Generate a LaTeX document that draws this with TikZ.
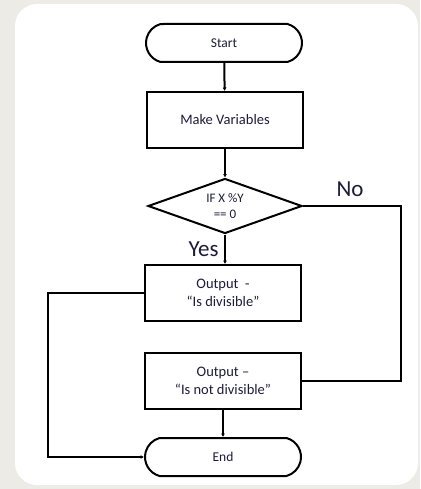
\documentclass[tikz,border=0pt]{standalone}
\usepackage{fontspec}
\setmainfont{Carlito}
\usepackage{tikz}
\usetikzlibrary{arrows.meta,positioning,shapes.geometric,shapes.misc}
\definecolor{pagegrey}{RGB}{236,235,230}
\definecolor{inkdark}{RGB}{30,28,58}

\begin{document}
\begin{tikzpicture}[x=1pt,y=-1pt,
  flowline/.style={line width=2pt,black},
  flowarrow/.style={flowline,-{Latex[length=3.5pt,width=4pt]}},
  terminal/.style={draw,line width=2pt,rounded rectangle,rounded rectangle arc length=150,
    minimum width=156,minimum height=38,inner sep=0pt,font=\fontsize{13.5}{15}\selectfont,text=inkdark},
  process/.style={draw,line width=2pt,rectangle,minimum width=156,minimum height=56,
    align=center,font=\fontsize{14.5}{18}\selectfont,text=inkdark},
  decision/.style={draw,line width=2pt,diamond,aspect=2.8,minimum width=154,minimum height=55,
    inner sep=0pt,align=center,font=\fontsize{13}{16}\selectfont,text=inkdark},
  branchlabel/.style={font=\fontsize{23}{25}\selectfont,text=inkdark}]
  \useasboundingbox (0,0) rectangle (420,489);
  \fill[pagegrey] (0,0) rectangle (420,489);
  \fill[white,rounded corners=22pt] (15,4) rectangle (418,485);
  % boxes
  \node[terminal] (start) at (224,43) {Start};
  \node[process] (vars) at (225,120) {Make Variables};
  \node[decision] (test) at (225,206) {IF X \%Y\\== 0};
  \node[process] (isdiv) at (223,293) {Output \ -\\“Is divisible”};
  \node[process] (notdiv) at (223,381) {Output --\\“Is not divisible”};
  \node[terminal] (stop) at (223,457) {End};
  \coordinate (leftTop) at (48,293);
  \coordinate (leftBot) at (48,457);
  \coordinate (rightTop) at (401,206);
  \coordinate (rightBot) at (401,381);
  % connectors
  \draw[flowarrow] (start) -- (vars);
  \draw[flowarrow] (vars) -- (test);
  \draw[flowarrow] (test.south) -- (test.south |- isdiv.north) node[pos=0.5,left=2pt,branchlabel]{Yes};
  \draw[flowline] (test.east) -- (rightTop) -- (rightBot) -- (notdiv.east);
  \node[branchlabel] (nolabel) at (350,189) {No};
  \draw[flowarrow] (isdiv.west) -- (leftTop) -- (leftBot) -- (stop.west);
  \draw[flowarrow] (notdiv.south) -- (notdiv.south |- stop.north);
\end{tikzpicture}
\end{document}
